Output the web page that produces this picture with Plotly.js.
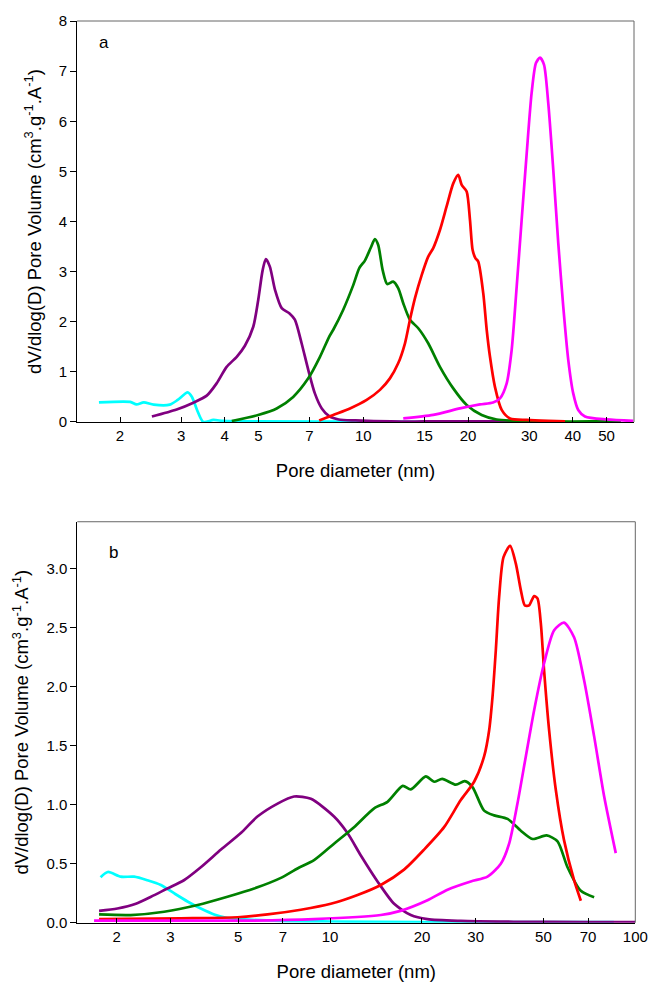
<!DOCTYPE html>
<html>
<head>
<meta charset="utf-8">
<script src="https://cdn.plot.ly/plotly-3.0.1.min.js"></script>
<style>html,body{margin:0;padding:0;background:#fff;}#chart{width:649px;height:982px;}</style>
</head>
<body>
<div id="chart"></div>
<script>
// ---------- Panel a ----------
const cyanA_x = [1.74, 2.14, 2.23, 2.34, 2.50, 2.78, 2.93, 3.13, 3.22, 3.33, 3.47, 3.71, 3.97, 5, 10, 20, 35];
const cyanA_y = [0.39, 0.40, 0.35, 0.39, 0.345, 0.345, 0.44, 0.59, 0.50, 0.24, 0.0, 0.04, 0.02, 0.01, 0.005, 0.005, 0.005];

const purpleA_x = [2.47, 2.91, 3.25, 3.55, 3.79, 4.05, 4.33, 4.57, 4.83, 4.99, 5.14, 5.25, 5.39, 5.58, 5.83, 6.13, 6.36, 6.65, 6.95, 7.26, 7.6, 8.0, 8.5, 9.5, 12, 15, 20, 27];
const purpleA_y = [0.11, 0.25, 0.385, 0.525, 0.77, 1.10, 1.30, 1.52, 1.90, 2.43, 3.03, 3.25, 3.10, 2.63, 2.27, 2.17, 2.04, 1.57, 1.04, 0.57, 0.27, 0.11, 0.05, 0.03, 0.01, 0.01, 0.01, 0.01];

const greenA_x = [4.19, 4.99, 5.64, 6.29, 6.95, 7.51, 7.98, 8.2, 8.76, 9.36, 9.74, 10.11, 10.5, 10.8, 11.04, 11.37, 11.72, 12.19, 12.6, 13.03, 13.62, 14.39, 15.37, 16.61, 18.14, 19.82, 21.89, 24.17, 28, 35, 45, 55];
const greenA_y = [0.02, 0.14, 0.27, 0.50, 0.87, 1.30, 1.70, 1.84, 2.24, 2.73, 3.07, 3.22, 3.47, 3.65, 3.53, 3.03, 2.75, 2.80, 2.67, 2.37, 2.04, 1.87, 1.57, 1.10, 0.67, 0.34, 0.14, 0.05, 0.02, 0.01, 0.01, 0.01];

const redA_x = [7.47, 8.2, 9.16, 10.23, 11.17, 11.93, 12.6, 13.18, 13.62, 14.08, 14.72, 15.37, 15.89, 16.61, 17.36, 18.14, 18.75, 19.18, 19.82, 20.26, 20.62, 21.0, 21.4, 22.12, 22.63, 23.13, 23.9, 24.99, 26.4, 29.49, 34, 38];
const redA_y = [0.03, 0.14, 0.27, 0.44, 0.64, 0.87, 1.17, 1.57, 2.04, 2.47, 2.93, 3.30, 3.47, 3.83, 4.30, 4.76, 4.93, 4.73, 4.60, 4.03, 3.43, 3.27, 3.20, 2.57, 1.84, 1.30, 0.70, 0.24, 0.07, 0.04, 0.02, 0.01];

const magentaA_x = [13.03, 15.89, 18.96, 21.65, 23.6, 24.71, 25.83, 26.7, 27.6, 28.52, 29.49, 30.46, 31.35, 32.19, 33.06, 34.01, 35.16, 36.34, 37.56, 38.82, 40.12, 41.47, 43.36, 50.05, 59.7];
const magentaA_y = [0.07, 0.14, 0.27, 0.35, 0.39, 0.47, 0.77, 1.44, 2.70, 4.03, 5.36, 6.56, 7.16, 7.27, 7.13, 6.36, 5.03, 3.57, 2.30, 1.24, 0.57, 0.24, 0.11, 0.05, 0.02];

// ---------- Panel b ----------
const cyanB_x = [1.77, 1.87, 2.06, 2.28, 2.52, 2.79, 3.08, 3.41, 3.77, 4.17, 4.61, 5.10, 6.9, 10, 20, 40, 85];
const cyanB_y = [0.385, 0.43, 0.39, 0.39, 0.36, 0.32, 0.25, 0.18, 0.12, 0.07, 0.04, 0.03, 0.015, 0.01, 0.005, 0.005, 0.005];

const purpleB_x = [1.75, 2.01, 2.31, 2.59, 2.93, 3.32, 3.77, 4.39, 5.10, 5.78, 6.73, 7.62, 8.65, 10.3, 11.4, 12.61, 14.3, 16.21, 18.38, 20.85, 26.8, 40, 70, 100];
const purpleB_y = [0.10, 0.12, 0.16, 0.22, 0.29, 0.36, 0.47, 0.62, 0.76, 0.90, 1.01, 1.07, 1.05, 0.90, 0.76, 0.57, 0.35, 0.16, 0.065, 0.03, 0.015, 0.008, 0.005, 0.005];

const greenB_x = [1.75, 2.22, 2.86, 3.68, 4.61, 5.64, 6.90, 7.82, 8.86, 10.3, 11.98, 13.94, 15.42, 17.3, 18.38, 20.59, 21.92, 23.3, 25.82, 27.6, 29.28, 31.96, 34.47, 38.13, 42.16, 46.05, 51.2, 55.62, 59.97, 66.3, 73.3];
const greenB_y = [0.07, 0.065, 0.093, 0.15, 0.22, 0.29, 0.38, 0.46, 0.53, 0.67, 0.81, 0.97, 1.025, 1.16, 1.13, 1.24, 1.195, 1.22, 1.17, 1.20, 1.15, 0.95, 0.91, 0.88, 0.78, 0.71, 0.74, 0.69, 0.47, 0.27, 0.215];

const redB_x = [1.75, 3.24, 4.98, 6.24, 8.02, 10.05, 12.3, 14.66, 17.47, 20.32, 23.63, 26.8, 29.64, 31.96, 33.19, 34.05, 34.91, 35.79, 37.0, 38.89, 40.6, 42.16, 43.45, 44.87, 46.6, 47.8, 49.02, 50.25, 52.2, 54.9, 58.4, 63.0, 66.3];
const redB_y = [0.03, 0.037, 0.046, 0.07, 0.11, 0.16, 0.235, 0.32, 0.45, 0.62, 0.81, 1.04, 1.195, 1.41, 1.63, 1.915, 2.31, 2.76, 3.10, 3.195, 3.045, 2.82, 2.69, 2.69, 2.77, 2.75, 2.54, 2.14, 1.63, 1.125, 0.70, 0.36, 0.186];

const magentaB_x = [1.685, 5.36, 8.86, 14.66, 17.0, 20.85, 24.25, 28.9, 32.8, 36.25, 38.6, 41.1, 43.78, 46.6, 50.25, 54.2, 58.4, 63.0, 67.9, 73.3, 79.06, 86.3];
const magentaB_y = [0.017, 0.017, 0.03, 0.065, 0.10, 0.19, 0.28, 0.35, 0.39, 0.50, 0.67, 1.01, 1.41, 1.80, 2.20, 2.48, 2.545, 2.42, 2.06, 1.58, 1.07, 0.59];

// tick labels
const xTicksA = [2, 3, 4, 5, 7, 10, 15, 20, 30, 40, 50];
const xTicksB = [2, 3, 5, 7, 10, 20, 30, 50, 70, 100];
const yTicksA = [0, 1, 2, 3, 4, 5, 6, 7, 8];
const yTicksB = [0, 0.5, 1.0, 1.5, 2.0, 2.5, 3.0];

const colors = {cyan: '#00FFFF', purple: '#800080', green: '#008000', red: '#FF0000', magenta: '#FF00FF'};

function tr(x, y, color, xa, ya) {
  return {x: x, y: y, type: 'scatter', mode: 'lines', xaxis: xa, yaxis: ya,
          line: {color: color, width: 2.7, shape: 'spline', smoothing: 0.7}, hoverinfo: 'skip'};
}

const data = [
  tr(cyanA_x, cyanA_y, colors.cyan, 'x', 'y'),
  tr(purpleA_x, purpleA_y, colors.purple, 'x', 'y'),
  tr(greenA_x, greenA_y, colors.green, 'x', 'y'),
  tr(redA_x, redA_y, colors.red, 'x', 'y'),
  tr(magentaA_x, magentaA_y, colors.magenta, 'x', 'y'),
  tr(cyanB_x, cyanB_y, colors.cyan, 'x2', 'y2'),
  tr(purpleB_x, purpleB_y, colors.purple, 'x2', 'y2'),
  tr(greenB_x, greenB_y, colors.green, 'x2', 'y2'),
  tr(redB_x, redB_y, colors.red, 'x2', 'y2'),
  tr(magentaB_x, magentaB_y, colors.magenta, 'x2', 'y2')
];

const FONT = 'Liberation Sans, Arial, Helvetica, sans-serif';
const yTitle = 'dV/dlog(D) Pore Volume (cm<sup>3</sup>.g<sup>-1</sup>.A<sup>-1</sup>)';

function xAxis(domain, range, ticks, anchor) {
  return {type: 'log', domain: domain, range: range, anchor: anchor,
    tickmode: 'array', tickvals: ticks, ticktext: ticks.map(String),
    ticks: 'inside', ticklen: 5, tickwidth: 1, tickcolor: '#000',
    showline: true, linecolor: '#000', linewidth: 1, showgrid: false, zeroline: false,
    tickfont: {size: 15, family: FONT, color: '#000'},
    title: {text: 'Pore diameter (nm)', font: {size: 18.5, family: FONT, color: '#000'}, standoff: 21}};
}
function yAxis(domain, range, ticks, fmt, anchor) {
  return {domain: domain, range: range, anchor: anchor,
    tickmode: 'array', tickvals: ticks, ticktext: ticks.map(v => v.toFixed(fmt)),
    ticks: 'outside', ticklen: 6, tickwidth: 1, tickcolor: '#000',
    showline: true, linecolor: '#000', linewidth: 1, showgrid: false, zeroline: false,
    tickfont: {size: 15, family: FONT, color: '#000'},
    title: {text: yTitle, font: {size: 18.5, family: FONT, color: '#000'}, standoff: 12}};
}

function frame(xr, yr) {
  return [
    {type: 'line', xref: xr + ' domain', yref: yr + ' domain', x0: 0, x1: 1, y0: 1, y1: 1, line: {color: '#666', width: 1}},
    {type: 'line', xref: xr + ' domain', yref: yr + ' domain', x0: 1, x1: 1, y0: 0, y1: 1, line: {color: '#666', width: 1}}
  ];
}

const layout = {
  width: 649, height: 982,
  margin: {l: 0, r: 0, t: 0, b: 0},
  paper_bgcolor: '#fff', plot_bgcolor: '#fff',
  showlegend: false,
  font: {family: FONT, color: '#000'},
  xaxis: xAxis([0.1186, 0.9769], [0.1774, 1.778], xTicksA, 'y'),
  yaxis: yAxis([0.5703, 0.9786], [0, 8], yTicksA, 0, 'x'),
  xaxis2: xAxis([0.1191, 0.9789], [0.1717, 2.0], xTicksB, 'y2'),
  yaxis2: yAxis([0.0604, 0.4687], [0, 3.4], yTicksB, 1, 'x2'),
  shapes: frame('x', 'y').concat(frame('x2', 'y2')),
  annotations: [
    {text: 'a', xref: 'paper', yref: 'paper', x: 104 / 649, y: 1 - 42 / 982, xanchor: 'center', yanchor: 'middle', showarrow: false, font: {size: 17, family: FONT, color: '#000'}},
    {text: 'b', xref: 'paper', yref: 'paper', x: 113 / 649, y: 1 - 552 / 982, xanchor: 'center', yanchor: 'middle', showarrow: false, font: {size: 17, family: FONT, color: '#000'}}
  ]
};

Plotly.newPlot('chart', data, layout, {staticPlot: true, displayModeBar: false});
</script>
</body>
</html>
